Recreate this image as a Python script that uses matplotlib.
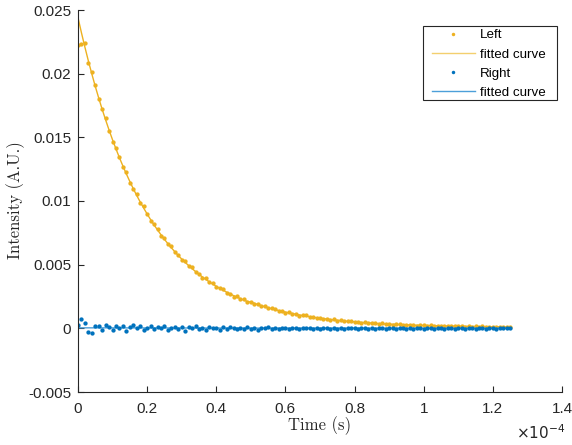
import matplotlib
matplotlib.use("Agg")
import matplotlib.pyplot as plt
from matplotlib.lines import Line2D
from matplotlib.patches import Rectangle
from matplotlib.ticker import FuncFormatter, FixedLocator

# sample times in microseconds
time_us = list(range(0, 126))

# intensities in units of 1e-3 A.U.
left_data = [22.25, 22.30, 22.40, 20.80, 20.15, 19.12, 17.98, 17.24, 16.51, 15.48,
             14.66, 14.14, 13.49, 12.69, 12.25, 11.41, 10.98, 10.52, 9.85, 9.60,
             8.95, 8.43, 8.19, 7.77, 7.22, 7.09, 6.59, 6.45, 5.98, 5.75,
             5.34, 5.26, 4.91, 4.80, 4.39, 4.29, 3.94, 3.94, 3.62, 3.53,
             3.22, 3.18, 3.08, 2.79, 2.73, 2.50, 2.51, 2.31, 2.29, 2.05,
             2.10, 1.92, 1.94, 1.75, 1.75, 1.56, 1.57, 1.53, 1.36, 1.36,
             1.22, 1.28, 1.14, 1.15, 1.00, 1.04, 1.01, 0.88, 0.89, 0.80,
             0.85, 0.74, 0.76, 0.65, 0.70, 0.61, 0.66, 0.55, 0.57, 0.57,
             0.48, 0.51, 0.44, 0.48, 0.40, 0.43, 0.42, 0.35, 0.39, 0.32,
             0.36, 0.30, 0.33, 0.32, 0.26, 0.29, 0.25, 0.28, 0.22, 0.25,
             0.23, 0.20, 0.24, 0.19, 0.22, 0.17, 0.20, 0.17, 0.20, 0.15,
             0.17, 0.18, 0.13, 0.17, 0.13, 0.16, 0.11, 0.15, 0.12, 0.14,
             0.11, 0.13, 0.10, 0.13, 0.10, 0.12]

left_fit = [24.40, 23.21, 22.08, 21.00, 19.98, 19.00, 18.08, 17.19, 16.36, 15.56,
            14.80, 14.08, 13.39, 12.74, 12.12, 11.53, 10.96, 10.43, 9.92, 9.44,
            8.98, 8.54, 8.12, 7.73, 7.35, 6.99, 6.65, 6.33, 6.02, 5.72,
            5.44, 5.18, 4.93, 4.69, 4.46, 4.24, 4.03, 3.84, 3.65, 3.47,
            3.30, 3.14, 2.99, 2.84, 2.70, 2.57, 2.45, 2.33, 2.21, 2.11,
            2.06, 1.97, 1.87, 1.78, 1.70, 1.62, 1.54, 1.47, 1.40, 1.34,
            1.27, 1.22, 1.16, 1.11, 1.05, 1.01, 0.96, 0.92, 0.87, 0.83,
            0.80, 0.76, 0.73, 0.69, 0.66, 0.63, 0.61, 0.58, 0.55, 0.53,
            0.51, 0.49, 0.46, 0.44, 0.43, 0.41, 0.39, 0.37, 0.36, 0.34,
            0.33, 0.32, 0.31, 0.29, 0.28, 0.27, 0.26, 0.25, 0.24, 0.23,
            0.22, 0.22, 0.21, 0.20, 0.20, 0.19, 0.18, 0.18, 0.17, 0.17,
            0.16, 0.16, 0.15, 0.15, 0.14, 0.14, 0.13, 0.13, 0.13, 0.12,
            0.12, 0.12, 0.12, 0.11, 0.11, 0.11]

right_data = [0.25, 0.75, 0.45, -0.30, -0.40, 0.15, 0.20, -0.10, 0.25, 0.10,
              -0.15, 0.20, 0.05, 0.15, -0.20, 0.10, 0.25, 0.00, 0.15, -0.10,
              0.05, 0.20, -0.05, 0.10, 0.00, 0.18, -0.15, 0.05, 0.12, -0.02,
              0.08, -0.18, 0.10, 0.02, 0.15, -0.08, 0.06, -0.12, 0.10, 0.00,
              0.05, -0.10, 0.08, -0.05, 0.12, 0.00, -0.08, 0.06, -0.02, 0.10,
              -0.06, 0.04, -0.10, 0.05, 0.00, 0.08, -0.05, 0.03, -0.08, 0.06,
              0.00, -0.04, 0.05, 0.01, -0.05, 0.03, 0.00, 0.05, -0.03, 0.02,
              -0.05, 0.04, 0.00, -0.03, 0.05, -0.02, 0.02, -0.05, 0.03, 0.00,
              0.04, -0.04, 0.01, 0.03, -0.03, 0.02, -0.02, 0.04, 0.00, -0.04,
              0.02, 0.03, -0.02, 0.00, 0.04, -0.03, 0.01, -0.02, 0.03, 0.00,
              -0.03, 0.02, 0.04, -0.02, 0.00, 0.03, -0.03, 0.01, 0.02, -0.02,
              0.03, 0.00, -0.03, 0.02, 0.01, -0.02, 0.03, 0.00, -0.02, 0.02,
              0.01, -0.03, 0.02, 0.00, 0.03, -0.01]

right_fit_time_us = [0, 25, 50, 75, 100, 125]
right_fit = [0.04, 0.03, 0.02, 0.02, 0.01, 0.01]

x_ticks = [0, 0.2e-4, 0.4e-4, 0.6e-4, 0.8e-4, 1.0e-4, 1.2e-4, 1.4e-4]
y_ticks = [-0.005, 0, 0.005, 0.01, 0.015, 0.02, 0.025]
y_tick_labels = ["-0.005", "0", "0.005", "0.01", "0.015", "0.02", "0.025"]

ORANGE = "#EDB120"
BLUE = "#0072BD"
DARK = "#262626"

plt.rcParams['font.family'] = ['Liberation Sans', 'DejaVu Sans']
plt.rcParams['mathtext.fontset'] = 'cm'

t = [v * 1e-6 for v in time_us]
tf = [v * 1e-6 for v in right_fit_time_us]
ld = [v * 1e-3 for v in left_data]
lf = [v * 1e-3 for v in left_fit]
rd = [v * 1e-3 for v in right_data]
rf = [v * 1e-3 for v in right_fit]

W, H = 572, 445
fig = plt.figure(figsize=(W / 100, H / 100), dpi=100)
ax = fig.add_axes([78 / W, 53 / H, 484 / W, 382 / H])

ax.plot(t, lf, '-', lw=1.0, color=ORANGE)
ax.plot(t, ld, linestyle='none', marker='o', ms=3.1, mew=0, color=ORANGE)
ax.plot(tf, rf, '-', lw=1.0, color="#4C9FD9")
ax.plot(t, rd, linestyle='none', marker='o', ms=3.1, mew=0, color=BLUE)

ax.set_xlim(0, 1.4e-4)
ax.set_ylim(-0.005, 0.025)
ax.xaxis.set_major_locator(FixedLocator(x_ticks))
ax.xaxis.set_major_formatter(FuncFormatter(lambda v, p: "%g" % round(v * 1e4, 6)))
ax.set_yticks(y_ticks)
ax.set_yticklabels(y_tick_labels)

for s in ['top', 'right']:
    ax.spines[s].set_visible(False)
for s in ['left', 'bottom']:
    ax.spines[s].set_color(DARK)
    ax.spines[s].set_linewidth(0.8)
ax.tick_params(direction='in', length=4, width=0.8, colors=DARK,
               labelsize=11, pad=5)
ax.tick_params(axis='x', pad=7)

fig.text(320 / W, 1 - 426 / H, 'Time (s)', family='cmr10', fontsize=12,
         color=DARK, ha='center', va='center')
fig.text(16 / W, 1 - 200 / H, 'Intensity (A.U.)', family='cmr10', fontsize=12,
         color=DARK, ha='center', va='center', rotation=90)

fig.text(565 / W, 1 - 433 / H, r'$\times10^{-4}$', ha='right', va='center',
         fontsize=11, color=DARK, math_fontfamily='dejavusans')

# legend
fig.patches.append(Rectangle((423 / W, 1 - 100 / H), 134 / W, 74 / H,
                             transform=fig.transFigure, facecolor='white',
                             edgecolor=DARK, linewidth=0.8, zorder=5))
handles = [
    Line2D([], [], linestyle='none', marker='o', ms=2.5, mew=0, color=ORANGE),
    Line2D([], [], lw=1.0, color="#F3CF6E"),
    Line2D([], [], linestyle='none', marker='o', ms=2.5, mew=0, color=BLUE),
    Line2D([], [], lw=1.0, color="#4C9FD9"),
]
labels = ["Left", "fitted curve", "Right", "fitted curve"]
leg = fig.legend(handles, labels, loc='upper left',
                 bbox_to_anchor=(432 / W, 1 - 29 / H), borderaxespad=0,
                 fontsize=9.6, handlelength=3.2, handletextpad=0.4,
                 labelspacing=0.52, borderpad=0.0, frameon=False)
leg.set_zorder(6)

fig.savefig("out.png", dpi=100)
